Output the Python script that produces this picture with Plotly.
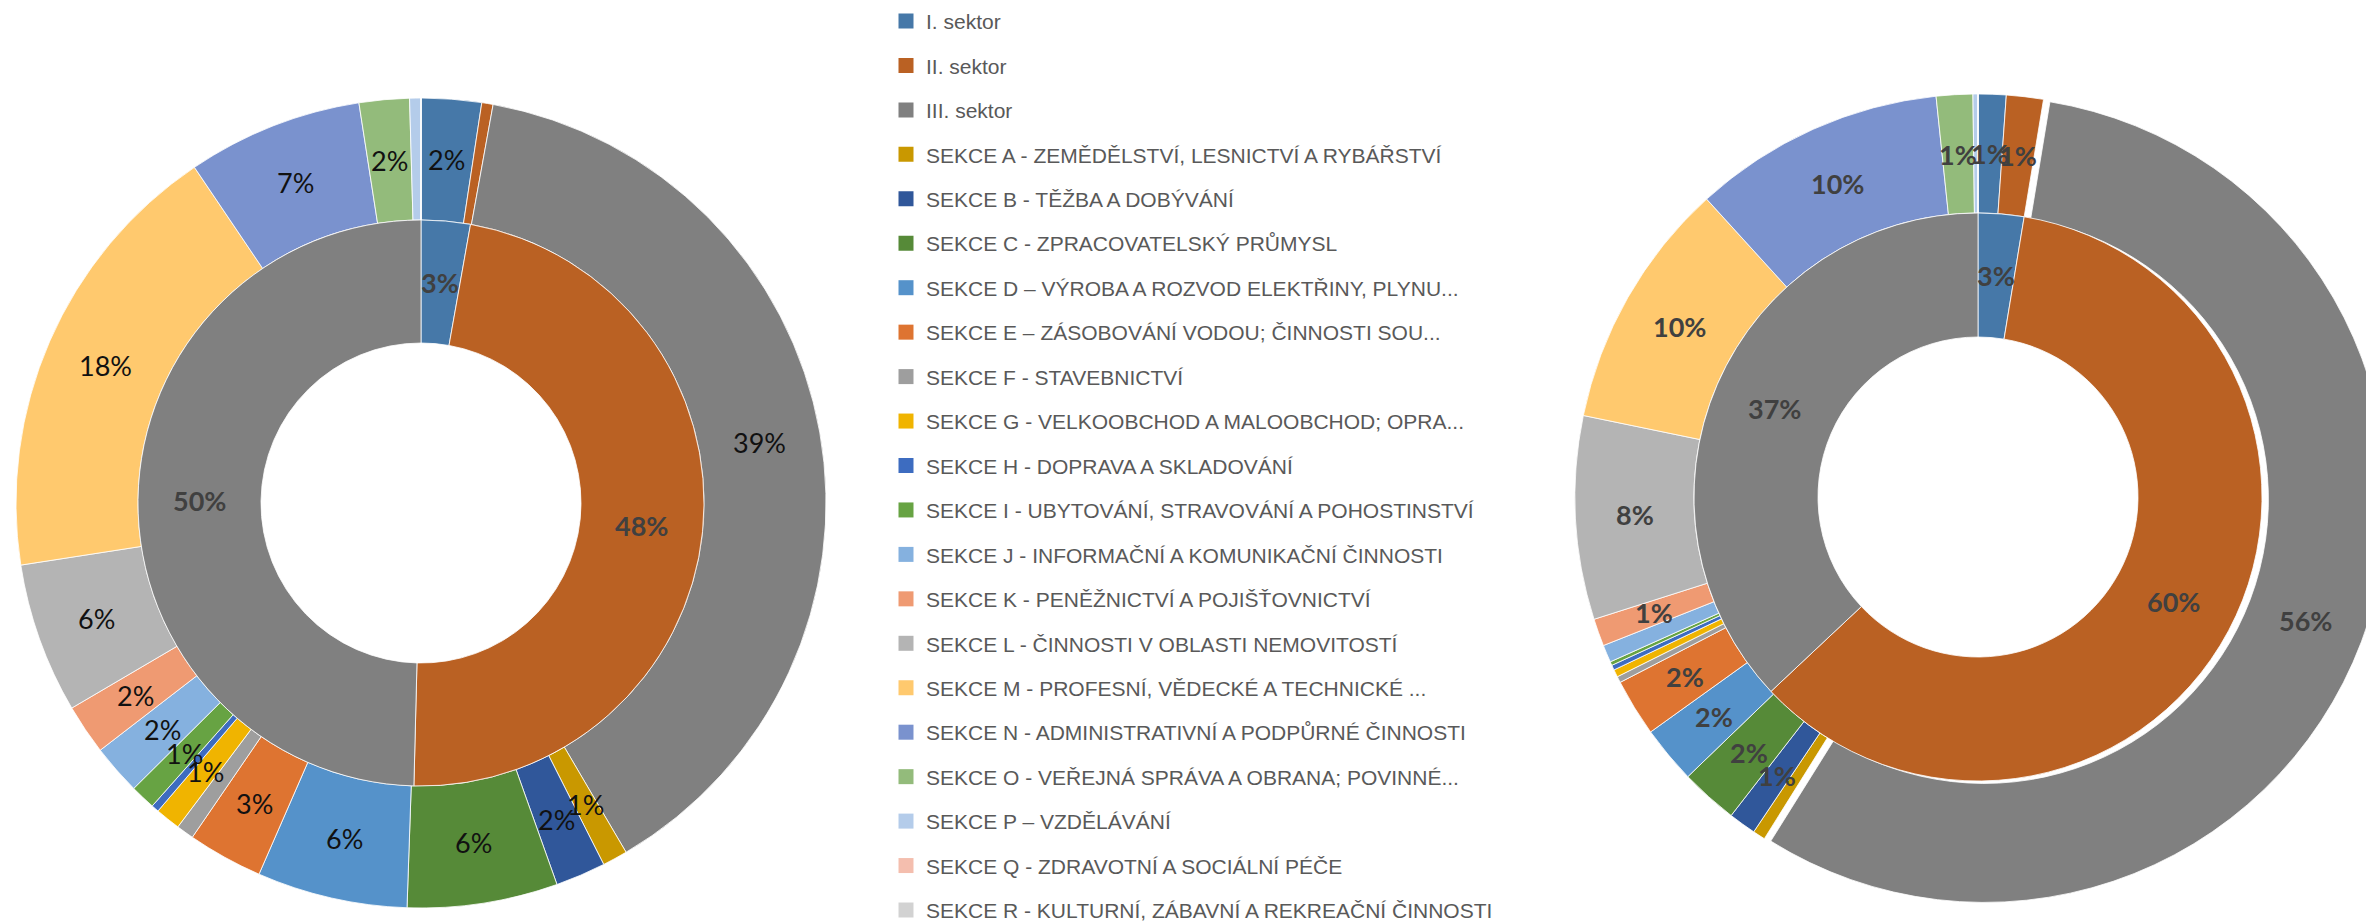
import math
import plotly.graph_objects as go

# the page body keeps its default 8px margin, so the figure sits 8px in
# from the top left of the 2374x922 window; it is a little wider than what
# is visible so the right chart can run off the edge as in the original
W, H = 2380, 914

# categories (legend order = slice order of the outer ring)
names = [
    "I. sektor",
    "II. sektor",
    "III. sektor",
    "SEKCE A - ZEMĚDĚLSTVÍ, LESNICTVÍ A RYBÁŘSTVÍ",
    "SEKCE B - TĚŽBA A DOBÝVÁNÍ",
    "SEKCE C - ZPRACOVATELSKÝ PRŮMYSL",
    "SEKCE D – VÝROBA A ROZVOD ELEKTŘINY, PLYNU...",
    "SEKCE E – ZÁSOBOVÁNÍ VODOU; ČINNOSTI SOU...",
    "SEKCE F - STAVEBNICTVÍ",
    "SEKCE G - VELKOOBCHOD A MALOOBCHOD; OPRA...",
    "SEKCE H - DOPRAVA A SKLADOVÁNÍ",
    "SEKCE I - UBYTOVÁNÍ, STRAVOVÁNÍ A POHOSTINSTVÍ",
    "SEKCE J - INFORMAČNÍ A KOMUNIKAČNÍ ČINNOSTI",
    "SEKCE K - PENĚŽNICTVÍ A POJIŠŤOVNICTVÍ",
    "SEKCE L - ČINNOSTI V OBLASTI NEMOVITOSTÍ",
    "SEKCE M - PROFESNÍ, VĚDECKÉ A TECHNICKÉ ...",
    "SEKCE N - ADMINISTRATIVNÍ A PODPŮRNÉ ČINNOSTI",
    "SEKCE O - VEŘEJNÁ SPRÁVA A OBRANA; POVINNÉ...",
    "SEKCE P – VZDĚLÁVÁNÍ",
    "SEKCE Q - ZDRAVOTNÍ A SOCIÁLNÍ PÉČE",
    "SEKCE R - KULTURNÍ, ZÁBAVNÍ A REKREAČNÍ ČINNOSTI",
]
colors = [
    "#4678A8", "#BA6123", "#808080",
    "#C99800", "#30579A", "#568A38", "#5592CA", "#DE7431", "#9E9E9E",
    "#F0B400", "#3D6CC0", "#67A343", "#85B1DF", "#EF9A72", "#B4B4B4",
    "#FFC96E", "#7A92CE", "#93BB7B", "#B4CCEA", "#F4BEAE", "#D2D2D2",
]

# shares in %
left_sectors = [2.8, 47.6, 49.6]
left_sections = [2.4, 0.45, 38.7, 1.0, 2.0, 6.0, 6.0, 3.0, 0.7, 1.0, 0.3,
                 1.0, 2.0, 2.0, 6.0, 18.0, 7.0, 2.0, 0.45, 0.0, 0.0]
right_sectors = [2.6, 60.4, 37.0]
right_sections = [1.12, 1.48, 56.3, 0.5, 1.1, 2.3, 2.3, 2.3, 0.25, 0.3, 0.2,
                  0.15, 0.7, 1.1, 8.15, 10.0, 10.1, 1.46, 0.2, 0.0, 0.0]

PULL = 0.017
right_pull = [PULL if n == "III. sektor" else 0 for n in names]

# geometry in figure pixels: centre and ring radii
LEFT = dict(cx=413, cy=495, hole=160, ring=283, outer=405)
RIGHT = dict(cx=1970, cy=489, hole=160, ring=284, outer=403)
RIGHT["half"] = RIGHT["outer"] * (1 + PULL)  # plotly shrinks pies that have a pull

LABEL_FONT = "Lato, Open Sans, sans-serif"
LEGEND_SIZE = 21
LEGEND_STEP = 44.45  # distance between legend rows in the original


def domain(cx, cy, half):
    return dict(x=[(cx - half) / W, min((cx + half) / W, 1.0)],
                y=[(H - cy - half) / H, (H - cy + half) / H])


def ring_labels(values, cx, cy, r_in, r_out, color, weight, pulls=None):
    """Excel style labels: slice middle, half way across the ring"""
    total = sum(values)
    out = []
    cum = 0
    for i, v in enumerate(values):
        share = v / total * 100
        ang = (cum + v / 2) / total * 2 * math.pi
        cum += v
        if share < 0.8:  # Excel labels of the thinnest slices were removed
            continue
        r = (r_in + r_out) / 2
        if pulls:
            r += pulls[i] * r_out
        x = cx + r * math.sin(ang)
        y = cy - r * math.cos(ang)
        out.append(dict(x=x / W, y=1 - y / H, xref="paper", yref="paper",
                        text=f"{round(share)}%", showarrow=False,
                        xanchor="center", yanchor="middle",
                        font=dict(family=LABEL_FONT, size=27, color=color,
                                  weight=weight)))
    return out


fig = go.Figure()

line = dict(color="white", width=0.8)
common = dict(sort=False, direction="clockwise", rotation=0, textinfo="none",
              showlegend=False, hoverinfo="label+percent")

# left chart
fig.add_trace(go.Pie(labels=names, values=left_sections,
                     marker=dict(colors=colors, line=line),
                     hole=LEFT["ring"] / LEFT["outer"],
                     domain=domain(LEFT["cx"], LEFT["cy"], LEFT["outer"]),
                     **common))
fig.add_trace(go.Pie(labels=names[:3], values=left_sectors,
                     marker=dict(colors=colors[:3], line=line),
                     hole=LEFT["hole"] / LEFT["ring"],
                     domain=domain(LEFT["cx"], LEFT["cy"], LEFT["ring"]),
                     **common))

# right chart, III. sektor pulled out of the outer ring
fig.add_trace(go.Pie(labels=names, values=right_sections, pull=right_pull,
                     marker=dict(colors=colors, line=line),
                     hole=RIGHT["ring"] / RIGHT["outer"],
                     domain=domain(RIGHT["cx"], RIGHT["cy"], RIGHT["half"]),
                     **common))
fig.add_trace(go.Pie(labels=names[:3], values=right_sectors,
                     marker=dict(colors=colors[:3], line=line),
                     hole=RIGHT["hole"] / RIGHT["ring"],
                     domain=domain(RIGHT["cx"], RIGHT["cy"], RIGHT["ring"]),
                     **common))

# legend entries (one per category, spaced like the Excel legend)
for name, c in zip(names, colors):
    fig.add_trace(go.Scatter(x=[None], y=[None], mode="markers", name=name,
                             legendgroup=name,
                             marker=dict(symbol="square", size=15, color=c)))

annotations = []
annotations += ring_labels(left_sections, LEFT["cx"], LEFT["cy"], LEFT["ring"],
                           LEFT["outer"], "#111111", "normal")
annotations += ring_labels(left_sectors, LEFT["cx"], LEFT["cy"], LEFT["hole"],
                           LEFT["ring"], "#404040", "bold")
annotations += ring_labels(right_sections, RIGHT["cx"], RIGHT["cy"], RIGHT["ring"],
                           RIGHT["outer"], "#404040", "bold", right_pull)
annotations += ring_labels(right_sectors, RIGHT["cx"], RIGHT["cy"], RIGHT["hole"],
                           RIGHT["ring"], "#404040", "bold")

# plotly legend row = 1.3 * font size + 3, the rest of the step is group gap
item_h = 1.3 * LEGEND_SIZE + 3
first_row = 13  # centre of the first legend row, figure pixels
legend_top = first_row - 5 - item_h / 2

fig.update_layout(
    width=W, height=H,
    # no autoexpand, so the legend may start right at the top edge
    margin=dict(l=0, r=0, t=0, b=0, autoexpand=False),
    paper_bgcolor="white", plot_bgcolor="white",
    xaxis=dict(visible=False), yaxis=dict(visible=False),
    annotations=annotations,
    legend=dict(x=878 / W, xanchor="left", y=1 - legend_top / H, yanchor="top",
                traceorder="grouped", tracegroupgap=LEGEND_STEP - item_h,
                maxheight=1000,
                font=dict(family="Liberation Sans, Arial, sans-serif",
                          size=LEGEND_SIZE, color="#595959")),
)

fig.write_html("out.html")
